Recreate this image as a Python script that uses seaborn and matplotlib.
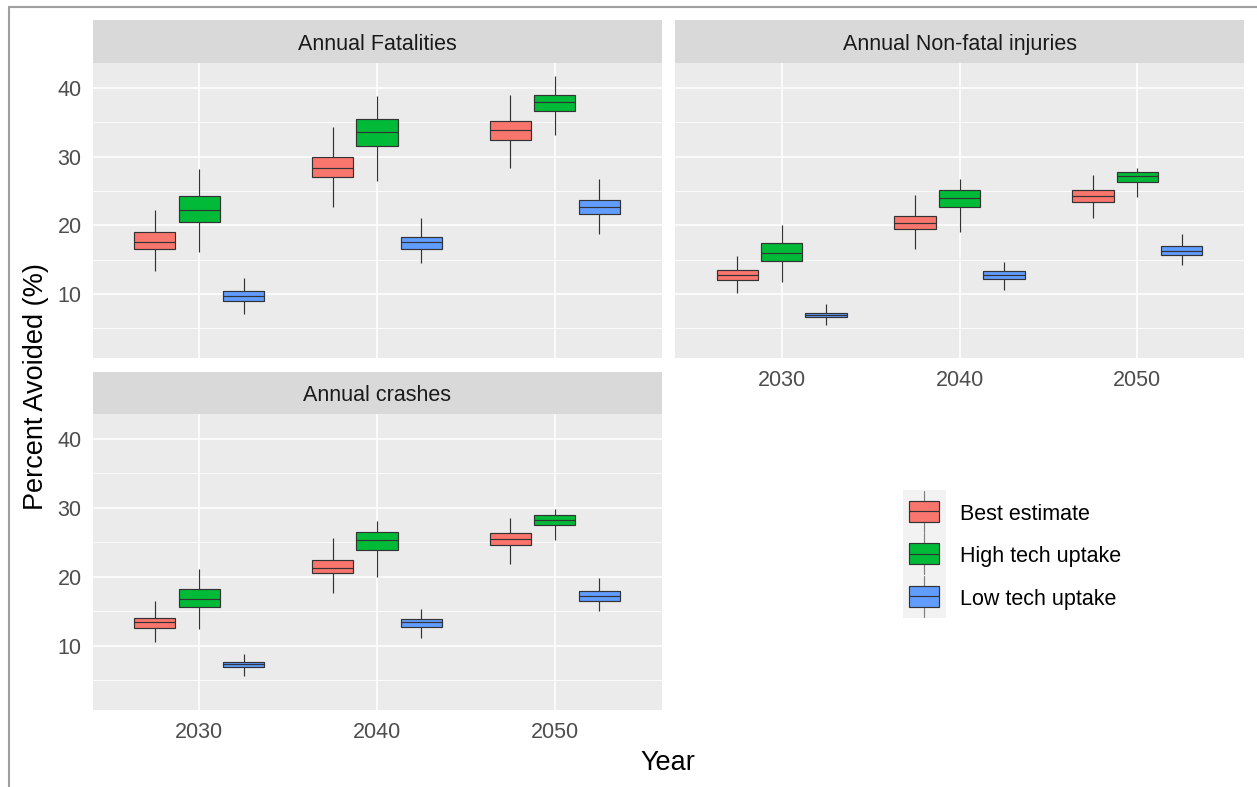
import numpy as np
import pandas as pd
import matplotlib
matplotlib.use("Agg")
import matplotlib.pyplot as plt
from matplotlib.lines import Line2D
from matplotlib.patches import Rectangle
from matplotlib.ticker import FixedLocator
import seaborn as sns

# ---- data -------------------------------------------------------------
years = ["2030", "2040", "2050"]
scenarios = ["Best estimate", "High tech uptake", "Low tech uptake"]
palette = ["#F8766D", "#00BA38", "#619CFF"]
facets = ["Annual Fatalities", "Annual Non-fatal injuries", "Annual crashes"]

# five-number summaries per year: min, Q1, median, Q3, max
fatal_best = [[13.4, 16.6, 17.6, 19.0, 22.2], [22.6, 27.0, 28.3, 30.0, 34.3], [28.4, 32.4, 33.8, 35.2, 39.0]]
fatal_high = [[16.1, 20.5, 22.2, 24.3, 28.2], [26.4, 31.6, 33.6, 35.5, 38.8], [33.2, 36.6, 37.9, 39.0, 41.7]]
fatal_low = [[7.1, 9.0, 9.7, 10.4, 12.3], [14.5, 16.5, 17.5, 18.3, 21.1], [18.7, 21.6, 22.6, 23.7, 26.7]]

injury_best = [[10.1, 12.0, 12.7, 13.5, 15.6], [16.6, 19.4, 20.3, 21.4, 24.4], [21.0, 23.4, 24.2, 25.1, 27.3]]
injury_high = [[11.7, 14.8, 16.0, 17.4, 20.1], [19.0, 22.7, 24.0, 25.2, 26.8], [24.1, 26.3, 27.1, 27.8, 28.4]]
injury_low = [[5.5, 6.7, 7.0, 7.3, 8.6], [10.6, 12.2, 12.8, 13.3, 14.7], [14.2, 15.7, 16.3, 17.0, 18.8]]

crash_best = [[10.5, 12.6, 13.4, 14.1, 16.5], [17.6, 20.5, 21.3, 22.5, 25.6], [21.9, 24.6, 25.5, 26.4, 28.5]]
crash_high = [[12.4, 15.6, 16.8, 18.3, 21.1], [20.0, 23.9, 25.3, 26.5, 28.1], [25.4, 27.5, 28.3, 29.0, 29.8]]
crash_low = [[5.7, 6.9, 7.3, 7.7, 8.8], [11.2, 12.8, 13.4, 13.9, 15.4], [15.0, 16.5, 17.2, 17.9, 19.8]]

summaries = {
    facets[0]: [fatal_best, fatal_high, fatal_low],
    facets[1]: [injury_best, injury_high, injury_low],
    facets[2]: [crash_best, crash_high, crash_low],
}

rows = []
for facet, per_scen in summaries.items():
    for scen, per_year in zip(scenarios, per_scen):
        for yr, vals in zip(years, per_year):
            for v in vals:
                rows.append((facet, yr, scen, v))
df = pd.DataFrame(rows, columns=["Outcome", "Year", "Scenario", "Percent"])

# ---- style ------------------------------------------------------------
sns.set_theme(style="white")
plt.rcParams["font.family"] = ["Liberation Sans", "DejaVu Sans"]

W, H = 1257, 787
fig = plt.figure(figsize=(W / 100, H / 100), dpi=100)
fig.patch.set_facecolor("white")


def frac(l, t, r, b):
    return [l / W, 1 - b / H, (r - l) / W, (b - t) / H]


TICK_FS = 15.5
TITLE_FS = 19.5
EDGE = "#333333"

panels = [
    # outcome, panel box, strip box, show x labels, show y labels
    (facets[0], (92.5, 63, 661.5, 358), (92.5, 20, 661.5, 63), False, True),
    (facets[1], (675, 63, 1244, 358), (675, 20, 1244, 63), True, False),
    (facets[2], (92.5, 414, 661.5, 710), (92.5, 372, 661.5, 414), True, True),
]

for outcome, pbox, sbox, show_x, show_y in panels:
    ax = fig.add_axes(frac(*pbox))
    sub = df[df["Outcome"] == outcome]
    sns.boxplot(
        data=sub, x="Year", y="Percent", hue="Scenario",
        order=years, hue_order=scenarios, palette=palette, saturation=1,
        width=0.75, gap=0.07, whis=(0, 100), linecolor=EDGE, linewidth=0.85,
        showcaps=False, fliersize=0, legend=False, ax=ax,
    )
    ax.set_facecolor("#EBEBEB")
    for s in ax.spines.values():
        s.set_visible(False)
    ax.set_xlim(-0.6, 2.6)
    ax.set_ylim(0.7, 43.6)
    ax.set_yticks([10, 20, 30, 40])
    ax.yaxis.set_minor_locator(FixedLocator([5, 15, 25, 35]))
    ax.set_axisbelow(True)
    ax.grid(True, which="major", color="white", linewidth=1.15)
    ax.grid(True, which="minor", axis="y", color="white", linewidth=0.6)
    ax.set_xlabel("")
    ax.set_ylabel("")
    ax.tick_params(axis="both", which="major", length=4.3, width=1.0, color=EDGE,
                   labelsize=TICK_FS, labelcolor="#4D4D4D", pad=3.5)
    ax.tick_params(axis="x", which="major", pad=4.5)
    ax.tick_params(axis="y", which="minor", length=0)
    if not show_x:
        ax.tick_params(axis="x", length=0, labelbottom=False)
    if not show_y:
        ax.tick_params(axis="y", length=0, labelleft=False)

    sax = fig.add_axes(frac(*sbox))
    sax.set_facecolor("#D9D9D9")
    sax.set_xticks([])
    sax.set_yticks([])
    for s in sax.spines.values():
        s.set_visible(False)
    sax.text(0.5, 0.44, outcome, ha="center", va="center", fontsize=TICK_FS,
             color="#1A1A1A", transform=sax.transAxes)

# axis titles
fig.text(36 / W, 1 - 387 / H, "Percent Avoided (%)", rotation=90,
         ha="center", va="center", fontsize=TITLE_FS, color="black")
fig.text(668 / W, 1 - 763 / H, "Year", ha="center", va="center",
         fontsize=TITLE_FS, color="black")

# legend with boxplot glyphs
lax = fig.add_axes(frac(902.7, 490, 945.7, 617.7))
lax.set_facecolor("#F2F2F2")
lax.set_xlim(0, 1)
lax.set_ylim(3, 0)
lax.set_xticks([])
lax.set_yticks([])
for s in lax.spines.values():
    s.set_visible(False)
row_px = (617.7 - 490) / 3
for i, (scen, col) in enumerate(zip(scenarios, palette)):
    lax.plot([0.5, 0.5], [i + 0.02, i + 0.98], color=EDGE, lw=0.85, alpha=0.6)
    lax.add_patch(Rectangle((0.15, i + 0.25), 0.7, 0.5, facecolor=col,
                            edgecolor=EDGE, linewidth=0.85, zorder=3))
    lax.plot([0.15, 0.85], [i + 0.5, i + 0.5], color=EDGE, lw=0.85, zorder=4)
    fig.text(960 / W, 1 - (493 + row_px * (i + 0.5)) / H, scen, ha="left",
             va="center", fontsize=TICK_FS, color="black")

# outer frame lines
fig.add_artist(Line2D([9 / W, 9 / W], [0, 1 - 6.5 / H], transform=fig.transFigure,
                      color="#A0A0A0", linewidth=1.5))
fig.add_artist(Line2D([9 / W, 1], [1 - 6.5 / H, 1 - 6.5 / H], transform=fig.transFigure,
                      color="#A0A0A0", linewidth=1.5))

fig.savefig("out.png", dpi=100, facecolor="white")
